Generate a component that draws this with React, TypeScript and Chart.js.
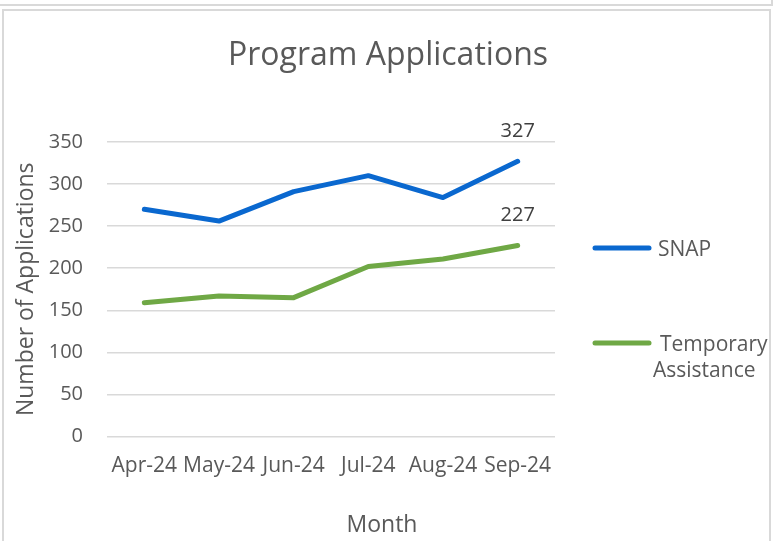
import React, { useEffect, useRef } from "react";
import { Chart, registerables } from "chart.js";

Chart.register(...registerables);

const TITLE = "Program Applications";
const X_TITLE = "Month";
const Y_TITLE = "Number of Applications";
const MONTHS = ["Apr-24", "May-24", "Jun-24", "Jul-24", "Aug-24", "Sep-24"];
const SNAP = [270, 256, 291, 310, 284, 327];
const TEMP_ASSIST = [159, 167, 165, 202, 211, 227];
const SERIES_NAMES = ["SNAP", "Temporary Assistance"];
const LEGEND_LINES = [["SNAP"], ["Temporary", "Assistance"]];
const Y_MIN = 0;
const Y_MAX = 350;
const Y_STEP = 50;

const BLUE = "#0A68CF";
const GREEN = "#6FA845";
const TEXT = "#595959";
const FONT = "'Open Sans', sans-serif";

const decorPlugin = {
  id: "decor",
  afterDraw(chart: any) {
    const ctx = chart.ctx;
    const area = chart.chartArea;
    ctx.save();
    ctx.fillStyle = TEXT;
    // title
    ctx.font = `32px ${FONT}`;
    ctx.textAlign = "center";
    ctx.textBaseline = "alphabetic";
    ctx.fillText(TITLE, 388, 65);
    // x title
    ctx.font = `23px ${FONT}`;
    ctx.fillText(X_TITLE, 382, 532);
    // y title
    ctx.save();
    ctx.translate(33, (area.top + area.bottom) / 2);
    ctx.rotate(-Math.PI / 2);
    ctx.fillText(Y_TITLE, 0, 0);
    ctx.restore();
    // data labels on last points
    ctx.font = `20px ${FONT}`;
    ctx.fillStyle = "#404040";
    chart.data.datasets.forEach((ds: any, i: number) => {
      const meta = chart.getDatasetMeta(i);
      const last = meta.data[meta.data.length - 1];
      const v = ds.data[ds.data.length - 1];
      ctx.fillText(String(v), last.x, last.y - 24);
    });
    // legend
    const colors = [BLUE, GREEN];
    const legendY = [248, 343];
    ctx.font = `21px ${FONT}`;
    ctx.fillStyle = TEXT;
    ctx.textAlign = "left";
    LEGEND_LINES.forEach((lines, i) => {
      const y = legendY[i];
      ctx.strokeStyle = colors[i];
      ctx.lineWidth = 5;
      ctx.lineCap = "round";
      ctx.beginPath();
      ctx.moveTo(595, y);
      ctx.lineTo(649, y);
      ctx.stroke();
      lines.forEach((t, j) => {
        const x = j === 0 ? (i === 0 ? 658 : 660) : 653;
        ctx.fillText(t, x, y + 8 + j * 26);
      });
    });
    ctx.restore();
  },
};

export default function App() {
  const ref = useRef<HTMLCanvasElement | null>(null);
  useEffect(() => {
    if (!ref.current) return;
    const chart = new Chart(ref.current, {
      type: "line",
      data: {
        labels: MONTHS,
        datasets: [
          {
            label: SERIES_NAMES[0],
            data: SNAP,
            borderColor: BLUE,
            backgroundColor: BLUE,
            borderWidth: 5,
            pointRadius: 0,
            borderCapStyle: "round",
            borderJoinStyle: "round",
            tension: 0,
          },
          {
            label: SERIES_NAMES[1],
            data: TEMP_ASSIST,
            borderColor: GREEN,
            backgroundColor: GREEN,
            borderWidth: 5,
            pointRadius: 0,
            borderCapStyle: "round",
            borderJoinStyle: "round",
            tension: 0,
          },
        ],
      },
      options: {
        responsive: false,
        animation: false,
        devicePixelRatio: 1,
        layout: { padding: { left: 0, right: 223, top: 142, bottom: 0 } },
        plugins: {
          legend: { display: false },
          title: { display: false },
          tooltip: { enabled: false },
        },
        scales: {
          x: {
            offset: true,
            grid: { display: false, drawTicks: false },
            border: { display: false },
            ticks: {
              color: TEXT,
              font: { family: FONT, size: 21 },
              padding: 17,
              maxRotation: 0,
              autoSkip: false,
            },
            afterFit(scale: any) {
              scale.height = 104.5;
            },
          },
          y: {
            min: Y_MIN,
            max: Y_MAX,
            grid: { color: "#d9d9d9", lineWidth: 1.5, drawTicks: false },
            border: { display: false },
            ticks: {
              stepSize: Y_STEP,
              color: TEXT,
              font: { family: FONT, size: 20 },
              padding: 24,
            },
            afterFit(scale: any) {
              scale.width = 107;
            },
          },
        },
      },
      plugins: [decorPlugin],
    } as any);
    return () => chart.destroy();
  }, []);

  return (
    <div
      style={{
        position: "fixed",
        left: 0,
        top: 0,
        width: 778,
        height: 541,
        overflow: "hidden",
        background: "#fff",
      }}
    >
      <canvas
        ref={ref}
        width={778}
        height={541}
        style={{ position: "absolute", left: 0, top: 0, width: 778, height: 541 }}
      />
      <div
        style={{
          position: "absolute",
          left: -10,
          top: -20,
          width: 783,
          height: 26,
          boxSizing: "border-box",
          border: "2px solid #d9d9d9",
          pointerEvents: "none",
        }}
      />
      <div
        style={{
          position: "absolute",
          left: 2,
          top: 9,
          width: 769,
          height: 600,
          boxSizing: "border-box",
          border: "2px solid #d9d9d9",
          pointerEvents: "none",
        }}
      />
    </div>
  );
}
